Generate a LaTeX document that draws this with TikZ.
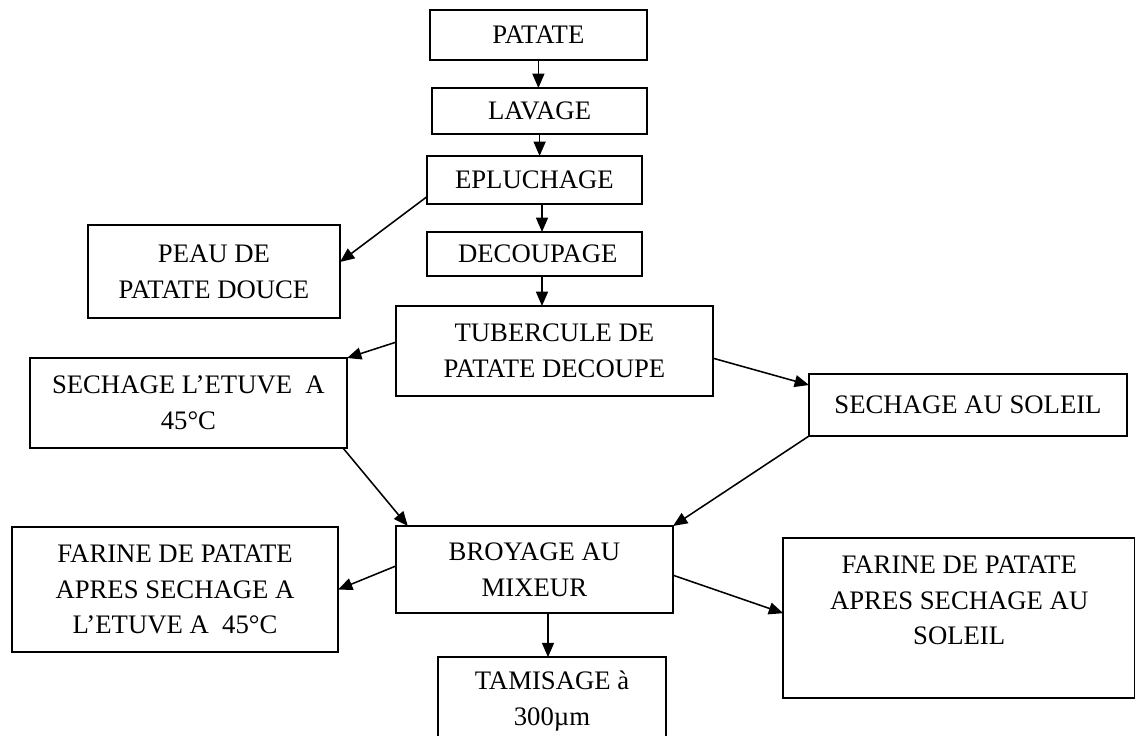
\documentclass[tikz,border=0pt]{standalone}
\usepackage{fontspec}
\setmainfont{Liberation Serif}
\usetikzlibrary{arrows.meta}
\begin{document}
\begin{tikzpicture}[scale=1,inner sep=0pt,outer sep=0pt,line width=1.1pt,
>={Triangle[length=0.36cm,width=0.3cm]},
font=\fontsize{19}{25.3}\selectfont,
procbox/.style={draw,rectangle,align=center,inner sep=2pt,line width=1.2pt}]
\useasboundingbox (0,0) rectangle (28.375,-18.375);
\draw (13.46,-0.875) node[procbox,minimum width=5.43cm,minimum height=1.25cm] (patate) {PATATE};
\draw (13.49,-2.775) node[procbox,minimum width=5.38cm,minimum height=1.15cm] (lavage) {LAVAGE};
\draw (13.36,-4.5) node[procbox,minimum width=5.38cm,minimum height=1.2cm] (epluchage) {EPLUCHAGE};
\draw (13.36,-6.35) node[procbox,minimum width=5.38cm,minimum height=1.1cm] (decoupage) {\ DECOUPAGE};
\draw (5.35,-6.79) node[procbox,minimum width=6.3cm,minimum height=2.33cm] (peau) {PEAU DE\\PATATE DOUCE};
\draw (13.86,-8.775) node[procbox,minimum width=7.93cm,minimum height=2.25cm] (tubercule) {TUBERCULE DE\\PATATE DECOUPE};
\draw (4.71,-10.075) node[procbox,minimum width=7.93cm,minimum height=2.25cm] (etuve) {SECHAGE L’ETUVE\ \ A\\45°C};
\draw (24.2,-10.125) node[procbox,minimum width=7.95cm,minimum height=1.55cm] (soleil) {SECHAGE AU SOLEIL};
\draw (13.36,-14.24) node[procbox,minimum width=6.93cm,minimum height=2.18cm] (broyage) {BROYAGE AU\\MIXEUR};
\draw (4.375,-14.74) node[procbox,minimum width=8.15cm,minimum height=3.13cm] (farineE) {FARINE DE PATATE\\APRES SECHAGE A\\L’ETUVE A\ \ 45°C};
\draw (23.98,-15.45) node[procbox,minimum width=8.8cm,minimum height=4.0cm] (farineS) {FARINE DE PATATE\\APRES SECHAGE AU\\SOLEIL\\\mbox{}};
\draw (13.8,-17.53) node[procbox,minimum width=5.7cm,minimum height=2.2cm] (tamisage) {TAMISAGE à\\300µm};
\draw[->] (patate.south) -- (patate.south |- lavage.north);
\draw[->] (lavage.south) -- (lavage.south |- epluchage.north);
\draw[->] (epluchage.south) ++(0.19,0) coordinate (e1) -- (e1 |- decoupage.north);
\draw[->] (decoupage.south) ++(0.19,0) coordinate (d1) -- (d1 |- tubercule.north);
\draw[->] ([yshift=0.18cm]epluchage.south west) -- ([yshift=0.24cm]peau.east);
\draw[->] ([yshift=0.22cm]tubercule.west) -- (etuve.north east);
\draw[->] ([yshift=-0.18cm]tubercule.east) -- ([yshift=0.5cm]soleil.west);
\draw[->] ([xshift=-0.1cm]etuve.south east) -- ([xshift=0.3cm]broyage.north west);
\draw[->] (soleil.south west) -- (broyage.north east);
\draw[->] ([yshift=0.09cm]broyage.west) -- (farineE.east);
\draw[->] ([yshift=-0.14cm]broyage.east) -- ([yshift=0.12cm]farineS.west);
\draw[->] (broyage.south) ++(0.34,0) coordinate (b1) -- (b1 |- tamisage.north);
\end{tikzpicture}
\end{document}
